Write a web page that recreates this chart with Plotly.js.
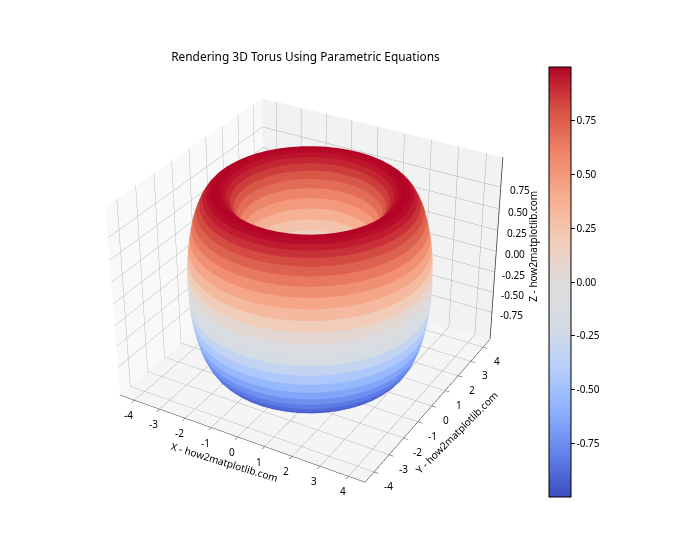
<!DOCTYPE html>
<html><head><meta charset="utf-8">
<script src="https://cdn.plot.ly/plotly-3.0.1.min.js"></script>
<style>html,body{margin:0;padding:0;background:#fff;width:700px;height:560px;overflow:hidden}#w{position:relative;width:700px;height:560px;overflow:hidden}#c{position:absolute;left:0;top:-373px;width:700px;height:1300px}</style>
</head><body><div id="w"><div id="c"></div></div>
<script>
// Sample table for the 50 x 50 parametric grid
const cosAngle=[1,.9918,.9673,.9269,.8713,.8014,.7183,.6235,.5183,.4048,.2845,.1595,.0320,-.0960,-.2225,-.3453,-.4625,-.5721,-.6723,-.7615,-.8381,-.9010,-.9491,-.9816,-.9980,-.9980,-.9816,-.9491,-.9010,-.8381,-.7615,-.6723,-.5721,-.4625,-.3453,-.2225,-.0960,.0320,.1595,.2845,.4048,.5183,.6235,.7183,.8014,.8713,.9269,.9673,.9918,1];
const sinAngle=[0,.1279,.2537,.3752,.4907,.5981,.6957,.7818,.8551,.9144,.9587,.9872,.9995,.9954,.9749,.9385,.8866,.8202,.7403,.6482,.5455,.4339,.3151,.1912,.0641,-.0641,-.1912,-.3151,-.4339,-.5455,-.6482,-.7403,-.8202,-.8866,-.9385,-.9749,-.9954,-.9995,-.9872,-.9587,-.9144,-.8551,-.7818,-.6957,-.5981,-.4907,-.3752,-.2537,-.1279,0];
const majorRadius=3;
const minorRadius=1;
const xyTicks=[-4,-3,-2,-1,0,1,2,3,4];
const zTicks=[-0.75,-0.5,-0.25,0,0.25,0.5,0.75];
const zTickText=['-0.75','-0.50','-0.25','0.00','0.25','0.50','0.75'];
const coolwarm=[[0,'#3b4cc0'],[.1,'#6282ea'],[.2,'#8db0fe'],[.3,'#b6cefa'],[.4,'#d6dce4'],[.5,'#dddcdc'],[.6,'#f2cbb7'],[.7,'#f7ac8e'],[.8,'#ee8468'],[.9,'#d65244'],[1,'#b40426']];
const FONT='"Noto Sans", "Open Sans", sans-serif';
const XL=4.58, ZL=1.09;
const H=1300, TOP=373;

const n=cosAngle.length;
const xs=[],ys=[],zs=[],I=[],J=[],K=[],cell=[];
for(let a=0;a<n;a++)for(let b=0;b<n;b++){
  const r=majorRadius+minorRadius*cosAngle[b];
  xs.push(r*cosAngle[a]);ys.push(r*sinAngle[a]);zs.push(minorRadius*sinAngle[b]);
}
for(let a=0;a<n-1;a++)for(let b=0;b<n-1;b++){
  const p=a*n+b,q=(a+1)*n+b,r=(a+1)*n+b+1,s=a*n+b+1;
  const v=(sinAngle[b]+sinAngle[b+1])/2*minorRadius;
  I.push(p,p);J.push(q,r);K.push(r,s);cell.push(v,v);
}
const mesh={type:'mesh3d',x:xs,y:ys,z:zs,i:I,j:J,k:K,intensity:cell,intensitymode:'cell',
  colorscale:coolwarm,cmin:-0.9995,cmax:0.9995,flatshading:true,hoverinfo:'skip',
  lighting:{ambient:1,diffuse:0,specular:0,roughness:1,fresnel:0},
  colorbar:{x:549/700,xanchor:'left',xpad:0,y:(H-282-TOP)/H,yanchor:'middle',ypad:0,thickness:22,thicknessmode:'pixels',len:430,lenmode:'pixels',
    outlinewidth:1,outlinecolor:'#000',ticks:'outside',ticklen:3.5,tickwidth:.8,tickcolor:'#000',
    tickvals:zTicks,ticktext:zTickText,tickfont:{family:FONT,size:10,color:'#000'}}};
// right-hand z axis edge with its ticks
const zx=[XL,XL],zy=[XL,XL],zz=[-ZL,ZL];
zTicks.forEach(t=>{zx.push(null,XL,XL+.2);zy.push(null,XL,XL);zz.push(null,t,t);});
const zAxisLine={type:'scatter3d',mode:'lines',x:zx,y:zy,z:zz,line:{color:'#333',width:1.5},hoverinfo:'skip',showlegend:false};

const ax=(bg,ticks,range,line)=>({title:{text:''},range:range,autorange:false,
  tickmode:'array',tickvals:ticks,showticklabels:false,
  showbackground:true,backgroundcolor:bg,gridcolor:'#b0b0b0',gridwidth:1,zeroline:false,
  showline:line,linecolor:'#333',linewidth:1,ticks:line?'outside':'',ticklen:4,tickcolor:'#333',showspikes:false});
const label=(x,y,z,text,dx,dy,angle)=>({x:x,y:y,z:z,text:text,showarrow:false,xshift:dx,yshift:dy,textangle:angle||0,
  xanchor:'center',yanchor:'middle',font:{family:FONT,size:10,color:'#000'}});
const notes=[];
xyTicks.forEach(t=>notes.push(label(t,-XL,-ZL,String(t),-6,-15)));
xyTicks.forEach(t=>notes.push(label(XL,t,-ZL,String(t),14,-14)));
zTicks.forEach((t,i)=>notes.push(label(XL,XL,t,zTickText[i],19,-3)));
notes.push(label(0,-XL,-ZL,'X - how2matplotlib.com',-13,-25,17));
notes.push(label(XL,0,-ZL,'Y - how2matplotlib.com',25,-26,-45));
notes.push(label(XL,XL,0,'Z - how2matplotlib.com',37,5,-90));
const layout={width:700,height:H,margin:{l:0,r:0,t:0,b:0},paper_bgcolor:'#fff',showlegend:false,
  title:{text:'Rendering 3D Torus Using Parametric Equations',font:{family:FONT,size:11.9,color:'#000'},x:305.5/700,xanchor:'center',y:(H-57-TOP)/H,yanchor:'middle'},
  scene:{domain:{x:[0,.886],y:[0,1]},aspectmode:'manual',aspectratio:{x:1,y:1,z:.77},
    camera:{eye:{x:2.4,y:-4.157,z:2.88},center:{x:0,y:0,z:0},up:{x:0,y:0,z:1}},
    annotations:notes,
    xaxis:ax('#f9f9f9',xyTicks,[-XL,XL],true),
    yaxis:ax('#f2f2f2',xyTicks,[-XL,XL],true),
    zaxis:ax('#f5f5f5',zTicks,[-ZL,ZL],false)}};
Plotly.newPlot('c',[mesh,zAxisLine],layout,{displayModeBar:false});
</script></body></html>
